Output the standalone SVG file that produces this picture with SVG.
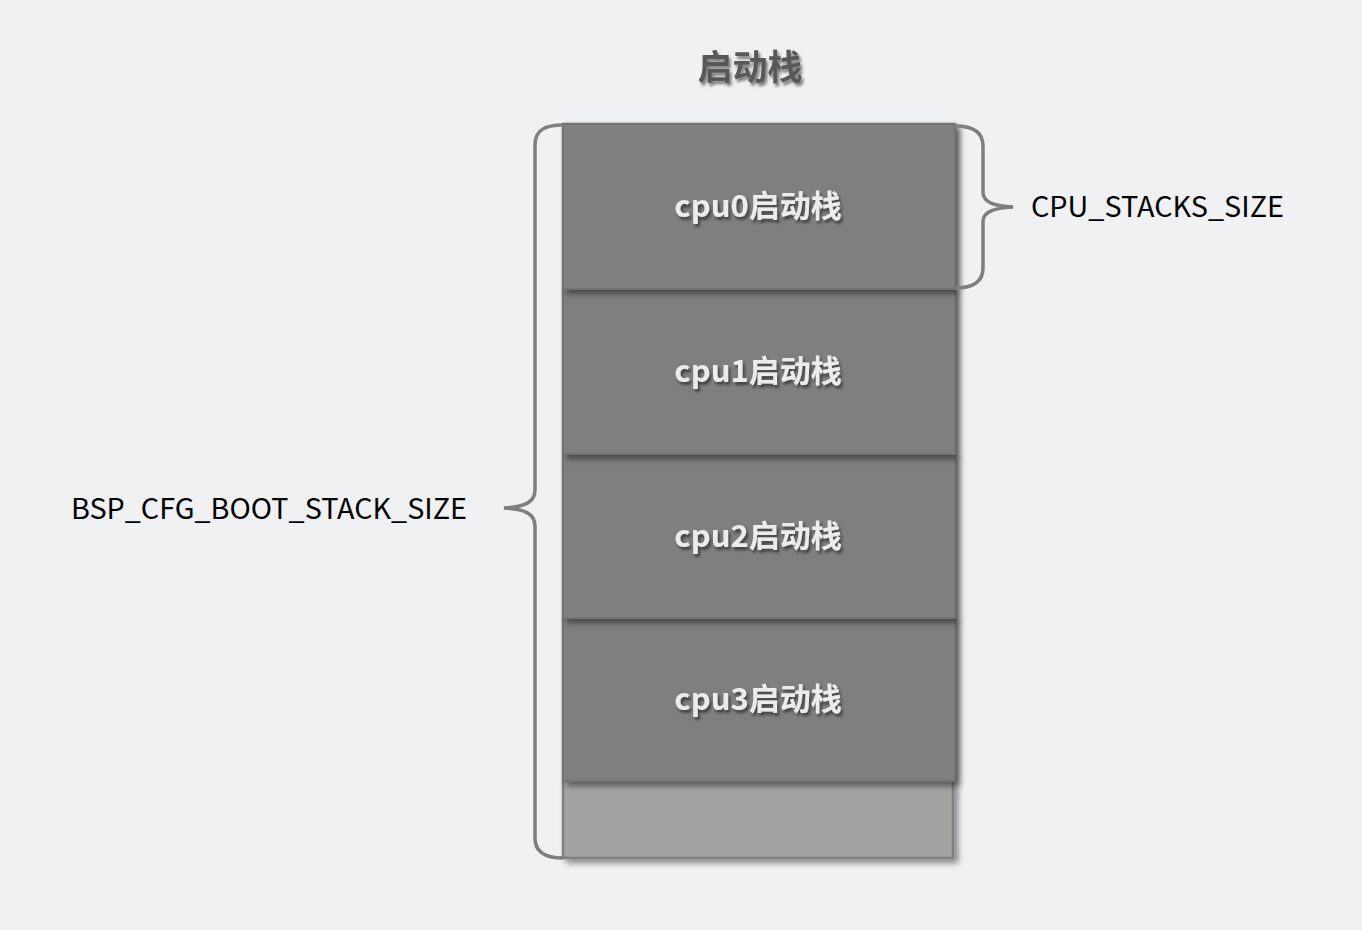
<svg xmlns="http://www.w3.org/2000/svg" width="1362" height="930" viewBox="0 0 1362 930">
<defs>
<filter id="sh" x="-10%" y="-10%" width="130%" height="130%">
<feGaussianBlur in="SourceAlpha" stdDeviation="3"/>
<feOffset dx="4" dy="4" result="b"/>
<feComponentTransfer><feFuncA type="linear" slope="0.45"/></feComponentTransfer>
<feMerge><feMergeNode/><feMergeNode in="SourceGraphic"/></feMerge>
</filter>
<filter id="tsh" x="-10%" y="-20%" width="130%" height="160%">
<feGaussianBlur in="SourceAlpha" stdDeviation="1.5"/>
<feOffset dx="2" dy="3" result="b"/>
<feComponentTransfer><feFuncA type="linear" slope="0.5"/></feComponentTransfer>
<feMerge><feMergeNode/><feMergeNode in="SourceGraphic"/></feMerge>
</filter>
<style>
.box{fill:#7f7f7f;stroke:#737373;stroke-width:2}
.lbl{font-family:"Noto Sans CJK SC","Noto Sans",sans-serif;font-weight:bold;font-size:31px;fill:#ececec;text-anchor:middle}
.side{font-family:"Noto Sans CJK SC","Noto Sans",sans-serif;font-size:28px;fill:#000}
.brace{fill:none;stroke:#7f7f7f;stroke-width:3.5}
</style>
</defs>
<rect width="1362" height="930" fill="#f0f1f3"/>
<text x="750" y="80" font-family="'Noto Sans CJK SC',sans-serif" font-weight="bold" font-size="35" fill="#595959" text-anchor="middle" filter="url(#tsh)">启动栈</text>
<g id="base"><rect x="563" y="124" width="390" height="734" fill="#a3a3a3" stroke="#7f7f7f" stroke-width="2.5" filter="url(#sh)"/></g>
<g id="cpu3"><rect class="box" x="563" y="618" width="392" height="163" filter="url(#sh)"/><text class="lbl" x="758" y="710" filter="url(#tsh)">cpu3启动栈</text></g>
<g id="cpu2"><rect class="box" x="563" y="454" width="392" height="164" filter="url(#sh)"/><text class="lbl" x="758" y="547" filter="url(#tsh)">cpu2启动栈</text></g>
<g id="cpu1"><rect class="box" x="563" y="289" width="392" height="165" filter="url(#sh)"/><text class="lbl" x="758" y="382" filter="url(#tsh)">cpu1启动栈</text></g>
<g id="cpu0"><rect class="box" x="563" y="124" width="392" height="165" filter="url(#sh)"/><text class="lbl" x="758" y="217" filter="url(#tsh)">cpu0启动栈</text></g>
<g id="connectors">
<path class="brace" d="M563,125 C545,125 535,130 535,145 L535,490 C535,502 525,507 504,508 C525,509 535,514 535,526 L535,838 C535,852 545,858 563,858"/>
<path class="brace" d="M955,126 C973,126 983,132 983,146 L983,192 C983,202 993,206 1013,207 C993,208 983,212 983,222 L983,268 C983,282 973,288 955,288"/>
</g>
<g id="label-cpu"><text class="side" x="1031" y="217" textLength="253" lengthAdjust="spacingAndGlyphs">CPU_STACKS_SIZE</text></g>
<g id="label-bsp"><text class="side" x="71" y="519" textLength="396" lengthAdjust="spacingAndGlyphs">BSP_CFG_BOOT_STACK_SIZE</text></g>
</svg>
